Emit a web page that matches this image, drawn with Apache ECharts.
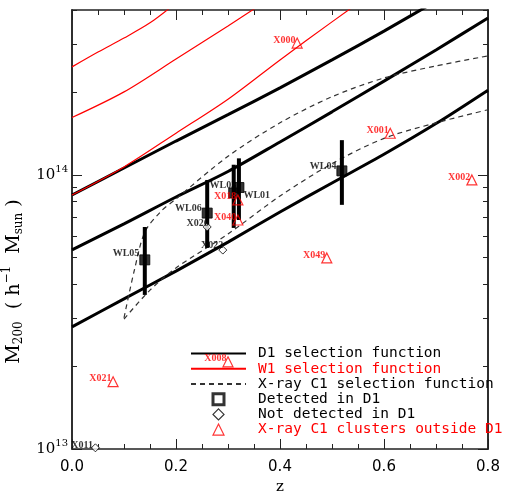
<!DOCTYPE html>
<html>
<head>
<meta charset="utf-8">
<script src="https://cdn.jsdelivr.net/npm/echarts@6/dist/echarts.min.js"></script>
<style>
  html, body { margin: 0; padding: 0; background: #fff; }
  #main { width: 507px; height: 496px; }
</style>
</head>
<body>
<div id="main"></div>
<script>
// masses are in units of 10^13 h^-1 Msun
// D1 selection function (three curves)
var d1Z = [0, 0.1, 0.2, 0.3, 0.4, 0.5, 0.6, 0.7, 0.8];
var d1Top = [8.45, 10.6, 13.3, 16.6, 20.8, 26.3, 33.5, 43.1, 55.6];
var d1Mid = [5.33, 6.63, 8.31, 10.3, 13.2, 17.0, 22.0, 28.6, 37.4];
var d1Low = [2.79, 3.53, 4.46, 5.69, 7.33, 9.35, 11.9, 15.4, 20.4];

// W1 selection function (three curves)
var w1aZ = [0, 0.05, 0.1, 0.15, 0.2];
var w1aM = [24.8, 28.1, 31.6, 35.9, 42.4];
var w1bZ = [0, 0.1, 0.2, 0.3, 0.4];
var w1bM = [16.2, 20.1, 26.5, 35.0, 46.5];
var w1cZ = [0, 0.1, 0.2, 0.3, 0.4, 0.5, 0.6];
var w1cM = [8.45, 10.7, 14.2, 18.9, 26.3, 36.2, 49.5];

// X-ray C1 selection function (two dashed curves)
var xUpZ = [0.1, 0.12, 0.14, 0.17, 0.2, 0.3, 0.4, 0.5, 0.6, 0.7, 0.8];
var xUpM = [3.01, 4.50, 6.19, 7.33, 8.18, 11.7, 15.5, 19.3, 22.6, 25.0, 27.2];
var xLoZ = [0.1, 0.15, 0.2, 0.3, 0.4, 0.5, 0.6, 0.7, 0.8];
var xLoM = [2.98, 3.80, 4.58, 6.09, 8.38, 11.0, 13.6, 15.5, 17.3];

// detected in D1 (with error bars)
var detNames = ['WL05', 'WL06', 'WL03', 'WL01', 'WL04'];
var detZ = [0.140, 0.260, 0.311, 0.321, 0.519];
var detM = [4.90, 7.26, 8.6, 9.0, 10.35];
var detLo = [3.65, 5.42, 6.41, 6.85, 7.78];
var detHi = [6.46, 9.59, 10.9, 11.5, 13.4];

// not detected in D1
var ndNames = ['X026', 'X022', 'X011'];
var ndZ = [0.260, 0.290, 0.045];
var ndM = [6.46, 5.32, 1.01];

// X-ray C1 clusters outside D1
var outNames = ['X000', 'X001', 'X002', 'X049', 'X018', 'X040', 'X008', 'X021'];
var outZ = [0.433, 0.612, 0.769, 0.490, 0.319, 0.319, 0.300, 0.079];
var outM = [30.3, 14.2, 9.59, 4.98, 8.11, 6.85, 2.08, 1.76];

var yMajor = [13, 14];
var yMinorMult = [2, 3, 4, 5, 6, 7, 8, 9, 20, 30, 40];

// label placement next to each symbol
var labelAt = {
  WL05: ['left', 0, -6], WL06: ['left', 0, -5], WL03: ['left', 8, -8],
  WL01: ['right', -1, 8], WL04: ['left', 0, -4],
  X026: ['left', 6, -4], X022: ['left', 5, -5], X011: ['left', 2, -2]
};

function lg(m) { return 13 + Math.log10(m); }
function pairs(zs, ms) { return zs.map(function (z, i) { return [z, lg(ms[i])]; }); }

var yMinor = yMinorMult.map(function (m) { return lg(m); });
var yMax = lg(40);

var labelFont = { fontFamily: 'Liberation Serif', fontSize: 10, fontWeight: 'bold' };

function pointData(names, zs, ms, defPos, color) {
  return names.map(function (n, i) {
    var p = labelAt[n] || defPos;
    return {
      name: n,
      value: [zs[i], lg(ms[i])],
      label: Object.assign({
        show: true, formatter: n, position: p[0], distance: 0,
        offset: [p[1], p[2]], color: color
      }, labelFont)
    };
  });
}

function curve(name, zs, ms, style) {
  return {
    name: name, type: 'line', data: pairs(zs, ms), symbol: 'none',
    smooth: 0.3, lineStyle: style, z: 2, silent: true
  };
}

var blk = { color: '#000', width: 3 };
var red = { color: '#f00', width: 1.2 };
var dsh = { color: '#333', width: 1.2, type: [5, 4] };
var noDot = { color: 'rgba(0,0,0,0)', borderColor: 'rgba(0,0,0,0)', borderWidth: 0 };

var chart = echarts.init(document.getElementById('main'));

function xAx(pos, labels) {
  return {
    type: 'value', position: pos, min: 0, max: 0.8, interval: 0.2,
    axisLine: { show: true, onZero: false, lineStyle: { color: '#222', width: 1.5 } },
    axisTick: { inside: true, length: 10, lineStyle: { color: '#222' } },
    minorTick: { show: true, splitNumber: 4, length: 5, lineStyle: { color: '#222' } },
    axisLabel: {
      show: labels, margin: 11, color: '#000', fontSize: 15, fontFamily: 'DejaVu Sans',
      formatter: function (v) { return v.toFixed(1); }
    },
    splitLine: { show: false },
    name: labels ? 'z' : '', nameLocation: 'middle', nameGap: 31,
    nameTextStyle: { fontFamily: 'DejaVu Serif', fontSize: 15, color: '#000' }
  };
}

function yAx(pos, ticks, len, labels, withName) {
  return {
    type: 'value', position: pos, min: 13, max: yMax,
    axisLine: { show: true, onZero: false, lineStyle: { color: '#222', width: 1.5 } },
    axisTick: { inside: true, length: len, customValues: ticks, lineStyle: { color: '#222' } },
    axisLabel: {
      show: labels, customValues: yMajor, margin: 4, color: '#000',
      formatter: function (v) { return '{b|10}{s|' + Math.round(v) + '}'; },
      rich: {
        b: { fontSize: 15, fontFamily: 'DejaVu Serif', color: '#000' },
        s: { fontSize: 10, fontFamily: 'DejaVu Serif', color: '#000', padding: [0, 0, 12, 0] }
      }
    },
    splitLine: { show: false },
    name: withName ? 'M{sub|200}  ( h{sup|\u22121}  M{sub|sun} )' : '',
    nameLocation: 'middle', nameGap: 25,
    nameTextStyle: {
      fontFamily: 'DejaVu Serif', fontSize: 19, color: '#000', padding: [0, 104, 0, 0],
      rich: {
        sub: { fontSize: 12, fontFamily: 'DejaVu Serif', color: '#000', padding: [10, 0, 0, 0] },
        sup: { fontSize: 12, fontFamily: 'DejaVu Serif', color: '#000', padding: [0, 0, 14, 0] }
      }
    }
  };
}

var option = {
  animation: false,
  backgroundColor: '#fff',
  grid: { left: 72, right: 19, top: 10, bottom: 47, outerBoundsMode: 'none', containLabel: false },
  xAxis: [xAx('bottom', true), xAx('top', false)],
  yAxis: [
    yAx('left', yMajor, 10, true, true),
    yAx('left', yMinor, 5, false, false),
    yAx('right', yMajor, 10, false, false),
    yAx('right', yMinor, 5, false, false)
  ],
  legend: {
    left: 185, top: 341, orient: 'vertical', selectedMode: false,
    itemWidth: 55, itemHeight: 11, itemGap: 0, symbolKeepAspect: true,
    textStyle: { fontFamily: 'DejaVu Sans Mono', fontSize: 14.5, lineHeight: 15.2, color: '#000', padding: [0, 0, 0, 7] },
    data: [
      { name: 'D1 selection function', itemStyle: noDot },
      { name: 'W1 selection function', itemStyle: noDot, textStyle: { color: '#f00' } },
      { name: 'X-ray C1 selection function', itemStyle: noDot },
      { name: 'Detected in D1', icon: 'path://M0,0L10,0L10,10L0,10Z',
        itemStyle: { color: '#fff', borderColor: '#000', borderWidth: 3 } },
      { name: 'Not detected in D1', icon: 'path://M5,0L10,5L5,10L0,5Z',
        itemStyle: { color: '#fff', borderColor: '#000', borderWidth: 1.2 } },
      { name: 'X-ray C1 clusters outside D1', icon: 'path://M5,0L10,10L0,10Z',
        itemStyle: { color: 'rgba(255,255,255,0)', borderColor: '#f00', borderWidth: 1.2 },
        textStyle: { color: '#f00' } }
    ]
  },
  series: [
    curve('D1 selection function', d1Z, d1Top, blk),
    curve('D1 selection function', d1Z, d1Mid, blk),
    curve('D1 selection function', d1Z, d1Low, blk),
    curve('W1 selection function', w1aZ, w1aM, red),
    curve('W1 selection function', w1bZ, w1bM, red),
    curve('W1 selection function', w1cZ, w1cM, red),
    curve('X-ray C1 selection function', xUpZ, xUpM, dsh),
    curve('X-ray C1 selection function', xLoZ, xLoM, dsh),
    {
      name: 'errbars', type: 'custom', z: 3, silent: true,
      data: detZ.map(function (z, i) { return [z, lg(detLo[i]), lg(detHi[i])]; }),
      renderItem: function (params, api) {
        var a = api.coord([api.value(0), api.value(1)]);
        var b = api.coord([api.value(0), api.value(2)]);
        return { type: 'line', shape: { x1: a[0], y1: a[1], x2: b[0], y2: b[1] },
          style: { stroke: '#000', lineWidth: 4 } };
      }
    },
    {
      name: 'Detected in D1', type: 'scatter', z: 4, symbol: 'rect', symbolSize: 10,
      itemStyle: { color: '#000', borderColor: '#000', borderWidth: 1 },
      data: pointData(detNames, detZ, detM, ['left', 0, -4], '#000')
    },
    {
      name: 'Not detected in D1', type: 'scatter', z: 4, symbol: 'diamond', symbolSize: 8,
      itemStyle: { color: '#fff', borderColor: '#000', borderWidth: 1 },
      data: pointData(ndNames, ndZ, ndM, ['left', 0, -4], '#000')
    },
    {
      name: 'X-ray C1 clusters outside D1', type: 'scatter', z: 4, symbol: 'triangle', symbolSize: 10,
      itemStyle: { color: 'rgba(255,255,255,0)', borderColor: '#f00', borderWidth: 1.2 },
      data: pointData(outNames, outZ, outM, ['left', 4, -3], '#f00')
    }
  ]
};

chart.setOption(option);
</script>
</body>
</html>
